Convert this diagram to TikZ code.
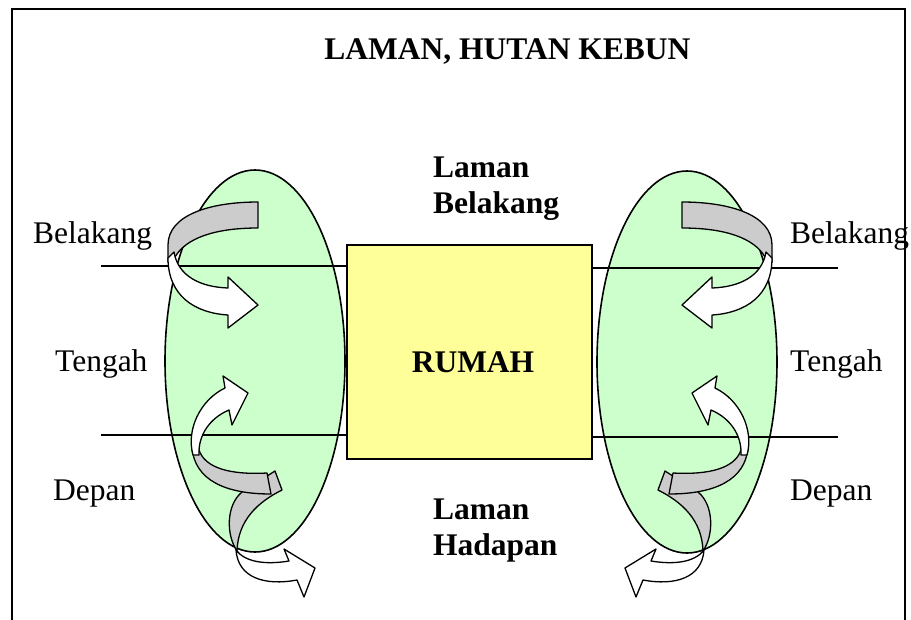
\documentclass[tikz,border=0pt]{standalone}
\usepackage{fontspec}
\setmainfont{Liberation Serif}
\definecolor{zonegreen}{HTML}{CCFFCC}
\definecolor{houseyellow}{HTML}{FFFF99}
\definecolor{bandgray}{HTML}{CCCCCC}
\newcommand\mysidearrows{%
  % top: gray back band and white arrow
  \draw[band] (258,202) -- (258,228) .. controls (215,228) and (186,238) .. (175,257)
     -- (168,262) -- (168,245) .. controls (168,215) and (210,202) .. (258,202) -- cycle;
  \draw[warrow] (168,258) .. controls (168,296) and (195,313) .. (228,315) -- (228,328)
     -- (258,305) -- (228,277) -- (228,288) .. controls (200,287) and (178,276) .. (174,252) -- cycle;
  % bottom: second gray band (behind)
  \draw[band] (275,471) -- (282,490) .. controls (258,502) and (238,520) .. (237,551)
     .. controls (226,535) and (226,505) .. (242,492) -- cycle;
  % bottom white arrow
  \draw[warrow] (236,550) .. controls (245,562) and (265,565) .. (289,561) -- (284,549)
     -- (315,568) -- (304,597) -- (297,580) .. controls (265,586) and (238,578) .. (236,550) -- cycle;
  % first gray band
  \draw[band] (192,448) .. controls (195,480) and (225,494) .. (271,494) -- (267,473)
     .. controls (230,475) and (205,468) .. (199,450) -- cycle;
  % upward white arrow
  \draw[warrow] (193,455) .. controls (186,430) and (200,400) .. (225,388) -- (223,376)
     -- (248,393) -- (232,425) -- (229,410) .. controls (210,418) and (198,435) .. (199,455) -- cycle;
}
\begin{document}
\begin{tikzpicture}[x=1pt,y=-1pt,
  txt/.style={font=\fontsize{31.5}{36}\selectfont, inner sep=0pt},
  btxt/.style={font=\fontsize{31.5}{36}\selectfont\bfseries, inner sep=0pt},
  zone/.style={draw, line width=1.6pt, fill=zonegreen},
  divider/.style={line width=1.3pt},
  band/.style={draw, line width=1.3pt, fill=bandgray, line join=round},
  warrow/.style={draw, line width=1.3pt, fill=white, line join=round}]
\useasboundingbox (0,0) rectangle (911,619);
\fill[white] (0,0) rectangle (911,619);
% frame (open at bottom)
\draw[line width=2.4pt] (12,625) -- (12,9) -- (905,9) -- (905,625);
% title
\node[btxt, anchor=base] (title) at (507.5,59) {LAMAN, HUTAN KEBUN};
% garden zones
\draw[zone] (255,361) ellipse [x radius=90pt, y radius=191pt];
\draw[zone] (687,362) ellipse [x radius=90pt, y radius=191pt];
% house
\node[draw, line width=1.6pt, fill=houseyellow, minimum width=245pt, minimum height=214pt, inner sep=0pt] (rumah) at (469.5,352) {};
\node[btxt, anchor=base] (rumahtxt) at (473,372) {RUMAH};
% divider lines
\coordinate (la) at (101,266);
\coordinate (lb) at (101,435);
\coordinate (ra) at (838,268);
\coordinate (rb) at (838,437);
\draw[divider] (la) -- (rumah.west |- la);
\draw[divider] (lb) -- (rumah.west |- lb);
\draw[divider] (ra) -- (rumah.east |- ra);
\draw[divider] (rb) -- (rumah.east |- rb);
% labels
\node[btxt, anchor=base west] (lbk1) at (433,177) {Laman};
\node[btxt, anchor=base west] (lbk2) at (433,213) {Belakang};
\node[btxt, anchor=base west] (lhd1) at (433,519) {Laman};
\node[btxt, anchor=base west] (lhd2) at (433,555) {Hadapan};
\node[txt, anchor=base west] (lbel) at (33,243) {Belakang};
\node[txt, anchor=base west] (lten) at (55,371) {Tengah};
\node[txt, anchor=base west] (ldep) at (53,500) {Depan};
\node[txt, anchor=base west] (rbel) at (790,243) {Belakang};
\node[txt, anchor=base west] (rten) at (790,371) {Tengah};
\node[txt, anchor=base west] (rdep) at (790,500) {Depan};
% curved arrows
\begin{scope}
\mysidearrows
\end{scope}
\begin{scope}[shift={(940,0)}, xscale=-1]
\mysidearrows
\end{scope}
\end{tikzpicture}
\end{document}
